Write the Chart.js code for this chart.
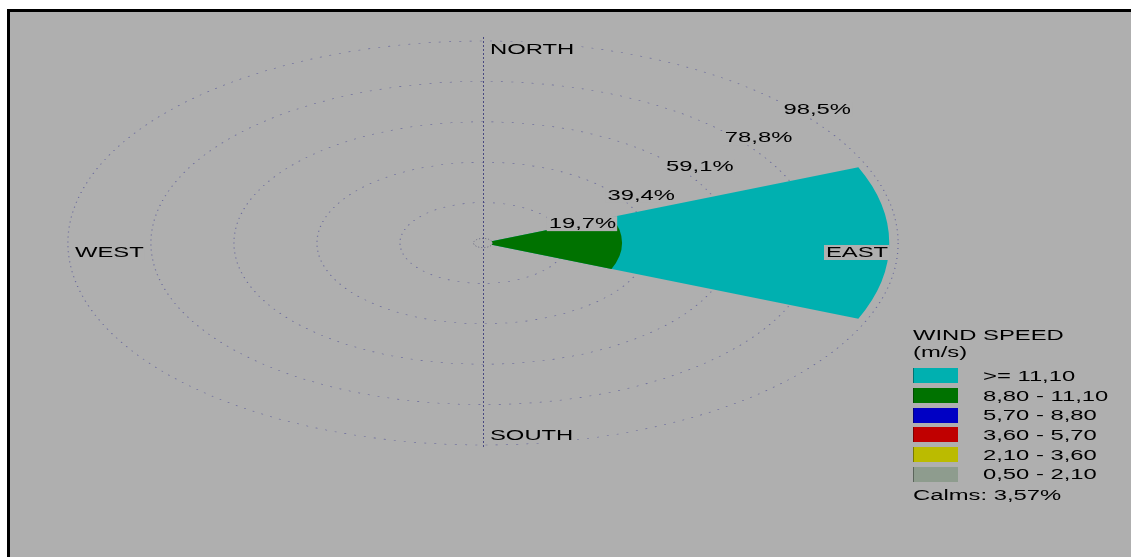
<!DOCTYPE html>
<html>
<head>
<meta charset="utf-8">
<script src="https://cdn.jsdelivr.net/npm/chart.js@4.4.0/dist/chart.umd.min.js"></script>
<style>
html,body{margin:0;padding:0;background:#ffffff;}
#wrap{position:relative;width:1131px;height:557px;}
canvas{display:block;}
</style>
</head>
<body>
<div id="wrap"><canvas id="c" width="1131" height="557"></canvas></div>
<script>
// ---- data ----
const directions = ['N', 'NE', 'E', 'SE', 'S', 'SW', 'W', 'NW'];
// speed bins, slowest first (stacked from the centre outward)
const speedBins = ['0,50 - 2,10', '2,10 - 3,60', '3,60 - 5,70', '5,70 - 8,80', '8,80 - 11,10', '>= 11,10'];
const freq_0_50_2_10  = [0, 0, 0,    0, 0, 0, 0, 0];
const freq_2_10_3_60  = [0, 0, 0,    0, 0, 0, 0, 0];
const freq_3_60_5_70  = [0, 0, 0,    0, 0, 0, 0, 0];
const freq_5_70_8_80  = [0, 0, 0,    0, 0, 0, 0, 0];
const freq_8_80_11_10 = [0, 0, 33.0, 0, 0, 0, 0, 0];
const freq_ge_11_10   = [0, 0, 63.4, 0, 0, 0, 0, 0];
const calmsPercent = 3.57;
const ringTicks = [19.7, 39.4, 59.1, 78.8, 98.5];
const compassLabels = ['NORTH', 'EAST', 'SOUTH', 'WEST'];
const legendTitle = ['WIND SPEED', '(m/s)'];

// ---- styles ----
const binColors = ['#8E9C8E', '#BBBB00', '#C00000', '#0000C4', '#007200', '#00B0B0'];
const BG = '#AFAFAF';
const GRID = '#6a6a9c';
const SX = 2.055;      // horizontal stretch of the rose (ellipse)
const TX = 1.7;        // horizontal stretch of text
const FONT = '14px "Liberation Sans", Arial, sans-serif';
const CALM_R = 2.25;

const binSeries = [freq_0_50_2_10, freq_2_10_3_60, freq_3_60_5_70, freq_5_70_8_80, freq_8_80_11_10, freq_ge_11_10];
let running = directions.map(() => 0);
const cumulative = binSeries.map(s => { running = running.map((v, i) => v + s[i]); return running.slice(); });

function fmt(v, d) { return v.toFixed(d).replace('.', ','); }

function drawLabel(ctx, text, x, baseline, box) {
  ctx.save();
  ctx.font = FONT;
  const w = ctx.measureText(text).width * TX;
  if (box) { ctx.fillStyle = BG; ctx.fillRect(x - 2, baseline - 12, w + 3, 15); }
  ctx.translate(x, baseline);
  ctx.scale(TX, 1);
  ctx.fillStyle = '#000';
  ctx.textAlign = 'left';
  ctx.textBaseline = 'alphabetic';
  ctx.fillText(text, 0, 0);
  ctx.restore();
}

const rosePlugin = {
  id: 'rosePlugin',
  beforeDraw(chart) {
    const ctx = chart.ctx;
    ctx.save();
    ctx.fillStyle = '#fff';
    ctx.fillRect(0, 0, chart.width, chart.height);
    ctx.fillStyle = BG;
    ctx.fillRect(7, 9, chart.width - 7, chart.height - 9);
    ctx.fillStyle = '#000';
    ctx.fillRect(7, 9, 3, chart.height - 9);
    ctx.fillRect(7, 9, chart.width - 7, 3);
    ctx.restore();
    const r = chart.scales.r;
    ctx.save();
    ctx.translate(r.xCenter, 0);
    ctx.scale(SX, 1);
    ctx.translate(-r.xCenter, 0);
  },
  afterDatasetsDraw(chart) {
    chart.ctx.restore();
  },
  afterDraw(chart) {
    const ctx = chart.ctx, r = chart.scales.r;
    const cx = r.xCenter, cy = r.yCenter;
    const ry = v => r.getDistanceFromCenterForValue(v);
    const rx = v => r.getDistanceFromCenterForValue(v) * SX;
    const outer = ringTicks[ringTicks.length - 1];

    ctx.save();
    // calm circle
    ctx.beginPath();
    ctx.ellipse(cx, cy, rx(CALM_R), ry(CALM_R), 0, 0, Math.PI * 2);
    ctx.fillStyle = BG;
    ctx.fill();
    ctx.setLineDash([1, 2]);
    ctx.strokeStyle = '#666680';
    ctx.lineWidth = 1;
    ctx.stroke();
    // north-south line
    ctx.setLineDash([2, 2]);
    ctx.strokeStyle = '#4a4a80';
    ctx.beginPath();
    ctx.moveTo(Math.round(cx) + 0.5, cy - ry(outer) - 4);
    ctx.lineTo(Math.round(cx) + 0.5, cy + ry(outer) + 3);
    ctx.stroke();
    ctx.restore();

    // ring labels at 45 degrees
    const c45 = Math.SQRT1_2;
    ringTicks.forEach(v => {
      drawLabel(ctx, fmt(v, 1) + '%', cx + rx(v) * c45 + 7, cy - ry(v) * c45 + 13.7, true);
    });

    // compass labels
    drawLabel(ctx, compassLabels[0], cx + 7, cy - 189, true);
    drawLabel(ctx, compassLabels[2], cx + 7, cy + 197, true);
    drawLabel(ctx, compassLabels[3], cx - 408, cy + 14, true);
    drawLabel(ctx, compassLabels[1], cx + 343, cy + 14, true);

    // legend
    const lx = 913;
    drawLabel(ctx, legendTitle[0], lx, 340, false);
    drawLabel(ctx, legendTitle[1], lx, 357, false);
    for (let k = speedBins.length - 1, row = 0; k >= 0; k--, row++) {
      const top = 368.3 + row * 19.7;
      ctx.fillStyle = binColors[k];
      ctx.fillRect(lx, Math.round(top), 45, 15);
      ctx.fillStyle = 'rgba(0,0,0,0.35)';
      ctx.fillRect(lx, Math.round(top), 1, 15);
      drawLabel(ctx, speedBins[k], 983, top + 12.5, false);
    }
    drawLabel(ctx, 'Calms: ' + fmt(calmsPercent, 2) + '%', lx, 499.5, false);
  }
};

new Chart(document.getElementById('c'), {
  type: 'polarArea',
  data: {
    labels: directions,
    datasets: cumulative.map((d, k) => ({
      label: speedBins[k],
      data: d,
      backgroundColor: binColors[k],
      borderWidth: 0
    }))
  },
  options: {
    responsive: false,
    animation: false,
    events: [],
    layout: { padding: { left: 281, right: 446, top: 41, bottom: 112 } },
    plugins: { legend: { display: false }, title: { display: false }, tooltip: { enabled: false } },
    scales: {
      r: {
        min: 0,
        max: 98.5,
        startAngle: -22.5,
        ticks: { display: false },
        afterBuildTicks: scale => { scale.ticks = [0].concat(ringTicks).map(v => ({ value: v })); },
        grid: { circular: true, color: GRID, lineWidth: 0.6 },
        border: { dash: [1, 4] },
        angleLines: { display: false },
        pointLabels: { display: false }
      }
    }
  },
  plugins: [rosePlugin]
});
</script>
</body>
</html>
